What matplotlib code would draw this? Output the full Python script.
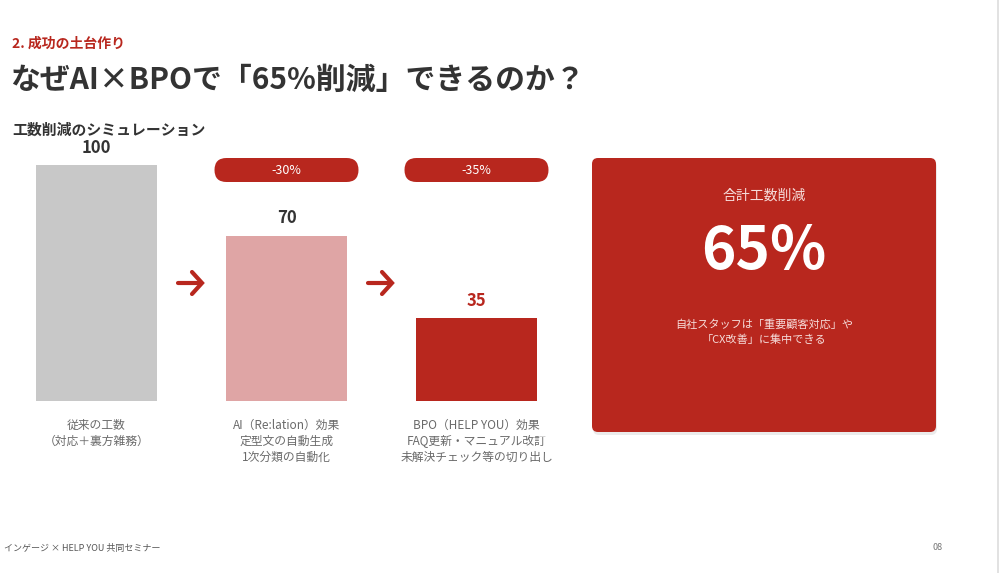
import matplotlib
matplotlib.use("Agg")
import matplotlib.pyplot as plt
from matplotlib.patches import FancyBboxPatch

plt.rcParams['font.family'] = ['Noto Sans CJK JP', 'DejaVu Sans']

# ---- data ----
categories = ["従来の工数\n（対応＋裏方雑務）",
              "AI（Re:lation）効果\n定型文の自動生成\n1次分類の自動化",
              "BPO（HELP YOU）効果\nFAQ更新・マニュアル改訂\n未解決チェック等の切り出し"]
values = [100, 70, 35]
value_labels = ["100", "70", "35"]
reductions = ["-30%", "-35%"]
total_reduction = "65%"

RED = "#B8271E"
PINK = "#DFA5A5"
GREY = "#C8C8C8"
DARK = "#333333"

W, H = 1000, 573
fig = plt.figure(figsize=(10, 5.73), dpi=100)
fig.patch.set_facecolor("white")

# pixel overlay axes (for decorations)
px = fig.add_axes([0, 0, 1, 1])
px.set_xlim(0, W)
px.set_ylim(H, 0)
px.axis("off")

# data axes for bars
ax = fig.add_axes([0, 0, 1, 1])
ax.patch.set_alpha(0)
ax.axis("off")
x0, step = 96.5, 190.0
ax.set_xlim(-x0 / step, (W - x0) / step)
base, unit = 401.0, 2.36
ax.set_ylim(-(H - base) / unit, base / unit)

colors = [GREY, PINK, RED]
xs = list(range(len(values)))
ax.bar(xs, values, width=121 / step, color=colors)
for i, (v, lab) in enumerate(zip(values, value_labels)):
    ax.annotate(lab, (i, v), xytext=(0, 6), textcoords="offset points",
                ha="center", va="bottom", fontsize=12, fontweight="bold",
                color=RED if i == 2 else DARK)
    ax.annotate(categories[i], (i, 0), xytext=(0, -13), textcoords="offset points",
                ha="center", va="top", fontsize=8.5, color="#6a6a6a",
                linespacing=1.3)

# arrows between bars (chevron style)
for i in range(len(values) - 1):
    tip = x0 + step * i + 105.5
    ay = 283
    px.plot([tip - 24, tip - 1], [ay, ay], color=RED, lw=3, solid_capstyle="round")
    px.plot([tip - 10, tip, tip - 10], [ay - 11, ay, ay + 11], color=RED, lw=3,
            solid_capstyle="round", solid_joinstyle="miter")

# pills
for i, r in enumerate(reductions):
    cx = x0 + step * (i + 1)
    bw, bh = 144, 24
    p = FancyBboxPatch((cx - bw / 2, 158), bw, bh,
                       boxstyle="round,pad=0,rounding_size=12",
                       facecolor=RED, edgecolor="none")
    px.add_patch(p)
    px.text(cx, 170, r, ha="center", va="center", color="white", fontsize=9)

# card with shadow
shadow = FancyBboxPatch((593, 161), 344, 274, boxstyle="round,pad=0,rounding_size=6",
                        facecolor="#000000", alpha=0.08, edgecolor="none")
px.add_patch(shadow)
card = FancyBboxPatch((592, 158), 344, 274, boxstyle="round,pad=0,rounding_size=6",
                      facecolor=RED, edgecolor="none")
px.add_patch(card)
ccx = 764
px.text(ccx, 196, "合計工数削減", ha="center", va="center", color="#F6DCDA", fontsize=10)
px.text(ccx, 252, total_reduction, ha="center", va="center", color="white",
        fontsize=42, fontweight="bold")
px.text(ccx, 332, "自社スタッフは「重要顧客対応」や\n「CX改善」に集中できる",
        ha="center", va="center", color="#F6DCDA", fontsize=8, linespacing=1.5)

# titles
px.text(12, 44, "2. 成功の土台作り", ha="left", va="center", color=RED,
        fontsize=10, fontweight="bold")
px.text(10, 80, "なぜAI×BPOで「65%削減」できるのか？", ha="left", va="center",
        color=DARK, fontsize=21.5, fontweight="bold")
px.text(12, 130, "工数削減のシミュレーション", ha="left", va="center",
        color=DARK, fontsize=10.7, fontweight="bold")

# footer
px.text(4, 548, "インゲージ × HELP YOU 共同セミナー", ha="left", va="center",
        color="#555555", fontsize=6.5)
px.text(938, 548, "08", ha="center", va="center", color="#777777", fontsize=6.5)

# right edge line
px.plot([998, 998], [0, H], color="#DDDDDD", lw=1.2)

fig.savefig("out.png", dpi=100, facecolor="white")
